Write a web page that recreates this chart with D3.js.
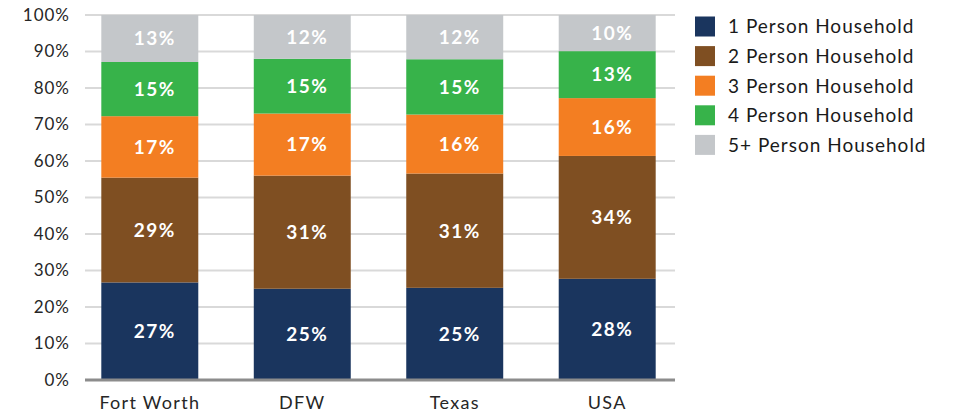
<!DOCTYPE html>
<html>
<head>
<meta charset="utf-8">
<script src="https://cdn.jsdelivr.net/npm/d3@7"></script>
<style>
  body { margin: 0; background: #fff; }
  svg { display: block; font-family: Lato, "Open Sans", sans-serif; }
</style>
</head>
<body>
<svg id="chart" width="955" height="417"></svg>
<script>
const categories = ["Fort Worth", "DFW", "Texas", "USA"];
const seriesNames = ["1 Person Household", "2 Person Household", "3 Person Household", "4 Person Household", "5+ Person Household"];
const onePerson  = [27, 25, 25, 28];
const twoPerson  = [29, 31, 31, 34];
const threePerson = [17, 17, 16, 16];
const fourPerson = [15, 15, 15, 13];
const fivePlus   = [13, 12, 12, 10];
const yTicks = [0, 0.1, 0.2, 0.3, 0.4, 0.5, 0.6, 0.7, 0.8, 0.9, 1.0];
const colors = ["#1a355e", "#7f4f22", "#f37e22", "#37b34a", "#c4c7ca"];

const seriesValues = [onePerson, twoPerson, threePerson, fourPerson, fivePlus];
const rows = categories.map((c, i) => {
  const r = { cat: c };
  seriesNames.forEach((s, k) => r[s] = seriesValues[k][i]);
  return r;
});

const svg = d3.select("#chart");
const x = d3.scaleBand().domain(categories).range([85, 672]).paddingInner(0.364).paddingOuter(0.107);
const y = d3.scaleLinear().domain([0, 1]).range([380, 15]);

// gridlines
svg.append("g").selectAll("line").data(yTicks.filter(t => t > 0)).join("line")
  .attr("x1", 85).attr("x2", 675)
  .attr("y1", d => y(d)).attr("y2", d => y(d))
  .attr("stroke", "#d9d9d9").attr("stroke-width", 2);

// y axis labels
const yAxis = svg.append("g").attr("transform", "translate(70,0)")
  .call(d3.axisLeft(y).tickValues(yTicks).tickFormat(d3.format(".0%")).tickSize(0).tickPadding(0));
yAxis.select(".domain").remove();
yAxis.selectAll("text").attr("font-size", 17).attr("letter-spacing", "1px")
  .attr("fill", "#262626").attr("font-family", "Lato, sans-serif");

const stack = d3.stack().keys(seriesNames).offset(d3.stackOffsetExpand);
const stacked = stack(rows);

const groups = svg.append("g").selectAll("g").data(stacked).join("g")
  .attr("fill", (d, i) => colors[i]);
groups.selectAll("rect").data(d => d).join("rect")
  .attr("x", d => x(d.data.cat))
  .attr("width", x.bandwidth())
  .attr("y", d => y(d[1]))
  .attr("height", d => y(d[0]) - y(d[1]));

// value labels
const labels = svg.append("g");
stacked.forEach((s, k) => {
  labels.selectAll(null).data(s).join("text")
    .attr("x", d => x(d.data.cat) + x.bandwidth() / 2 + 5)
    .attr("y", d => (y(d[0]) + y(d[1])) / 2)
    .attr("dy", "0.36em")
    .attr("text-anchor", "middle")
    .attr("font-size", 19)
    .attr("font-weight", "bold")
    .attr("letter-spacing", "1.5px")
    .attr("fill", "#fff")
    .text(d => d.data[s.key] + "%");
});

// x axis
svg.append("line").attr("x1", 85).attr("x2", 675).attr("y1", 380).attr("y2", 380)
  .attr("stroke", "#8c8c8c").attr("stroke-width", 3);
const xAxis = svg.append("g").attr("transform", "translate(0,396)")
  .call(d3.axisBottom(x).tickSize(0).tickPadding(0));
xAxis.select(".domain").remove();
xAxis.selectAll("text").attr("font-size", 18).attr("letter-spacing", "1.3px")
  .attr("fill", "#262626").attr("dy", "0.71em").attr("font-family", "Lato, sans-serif");

// legend
const legend = svg.append("g").attr("transform", "translate(695,0)");
const items = legend.selectAll("g").data(seriesNames).join("g")
  .attr("transform", (d, i) => `translate(0,${26.5 + i * 29.6})`);
items.append("rect").attr("x", 0).attr("y", -10).attr("width", 20).attr("height", 20)
  .attr("fill", (d, i) => colors[i]);
items.append("text").attr("x", 33).attr("dy", "0.36em")
  .attr("font-size", 19).attr("letter-spacing", "1px").attr("fill", "#1a1a1a").text(d => d);
</script>
</body>
</html>
